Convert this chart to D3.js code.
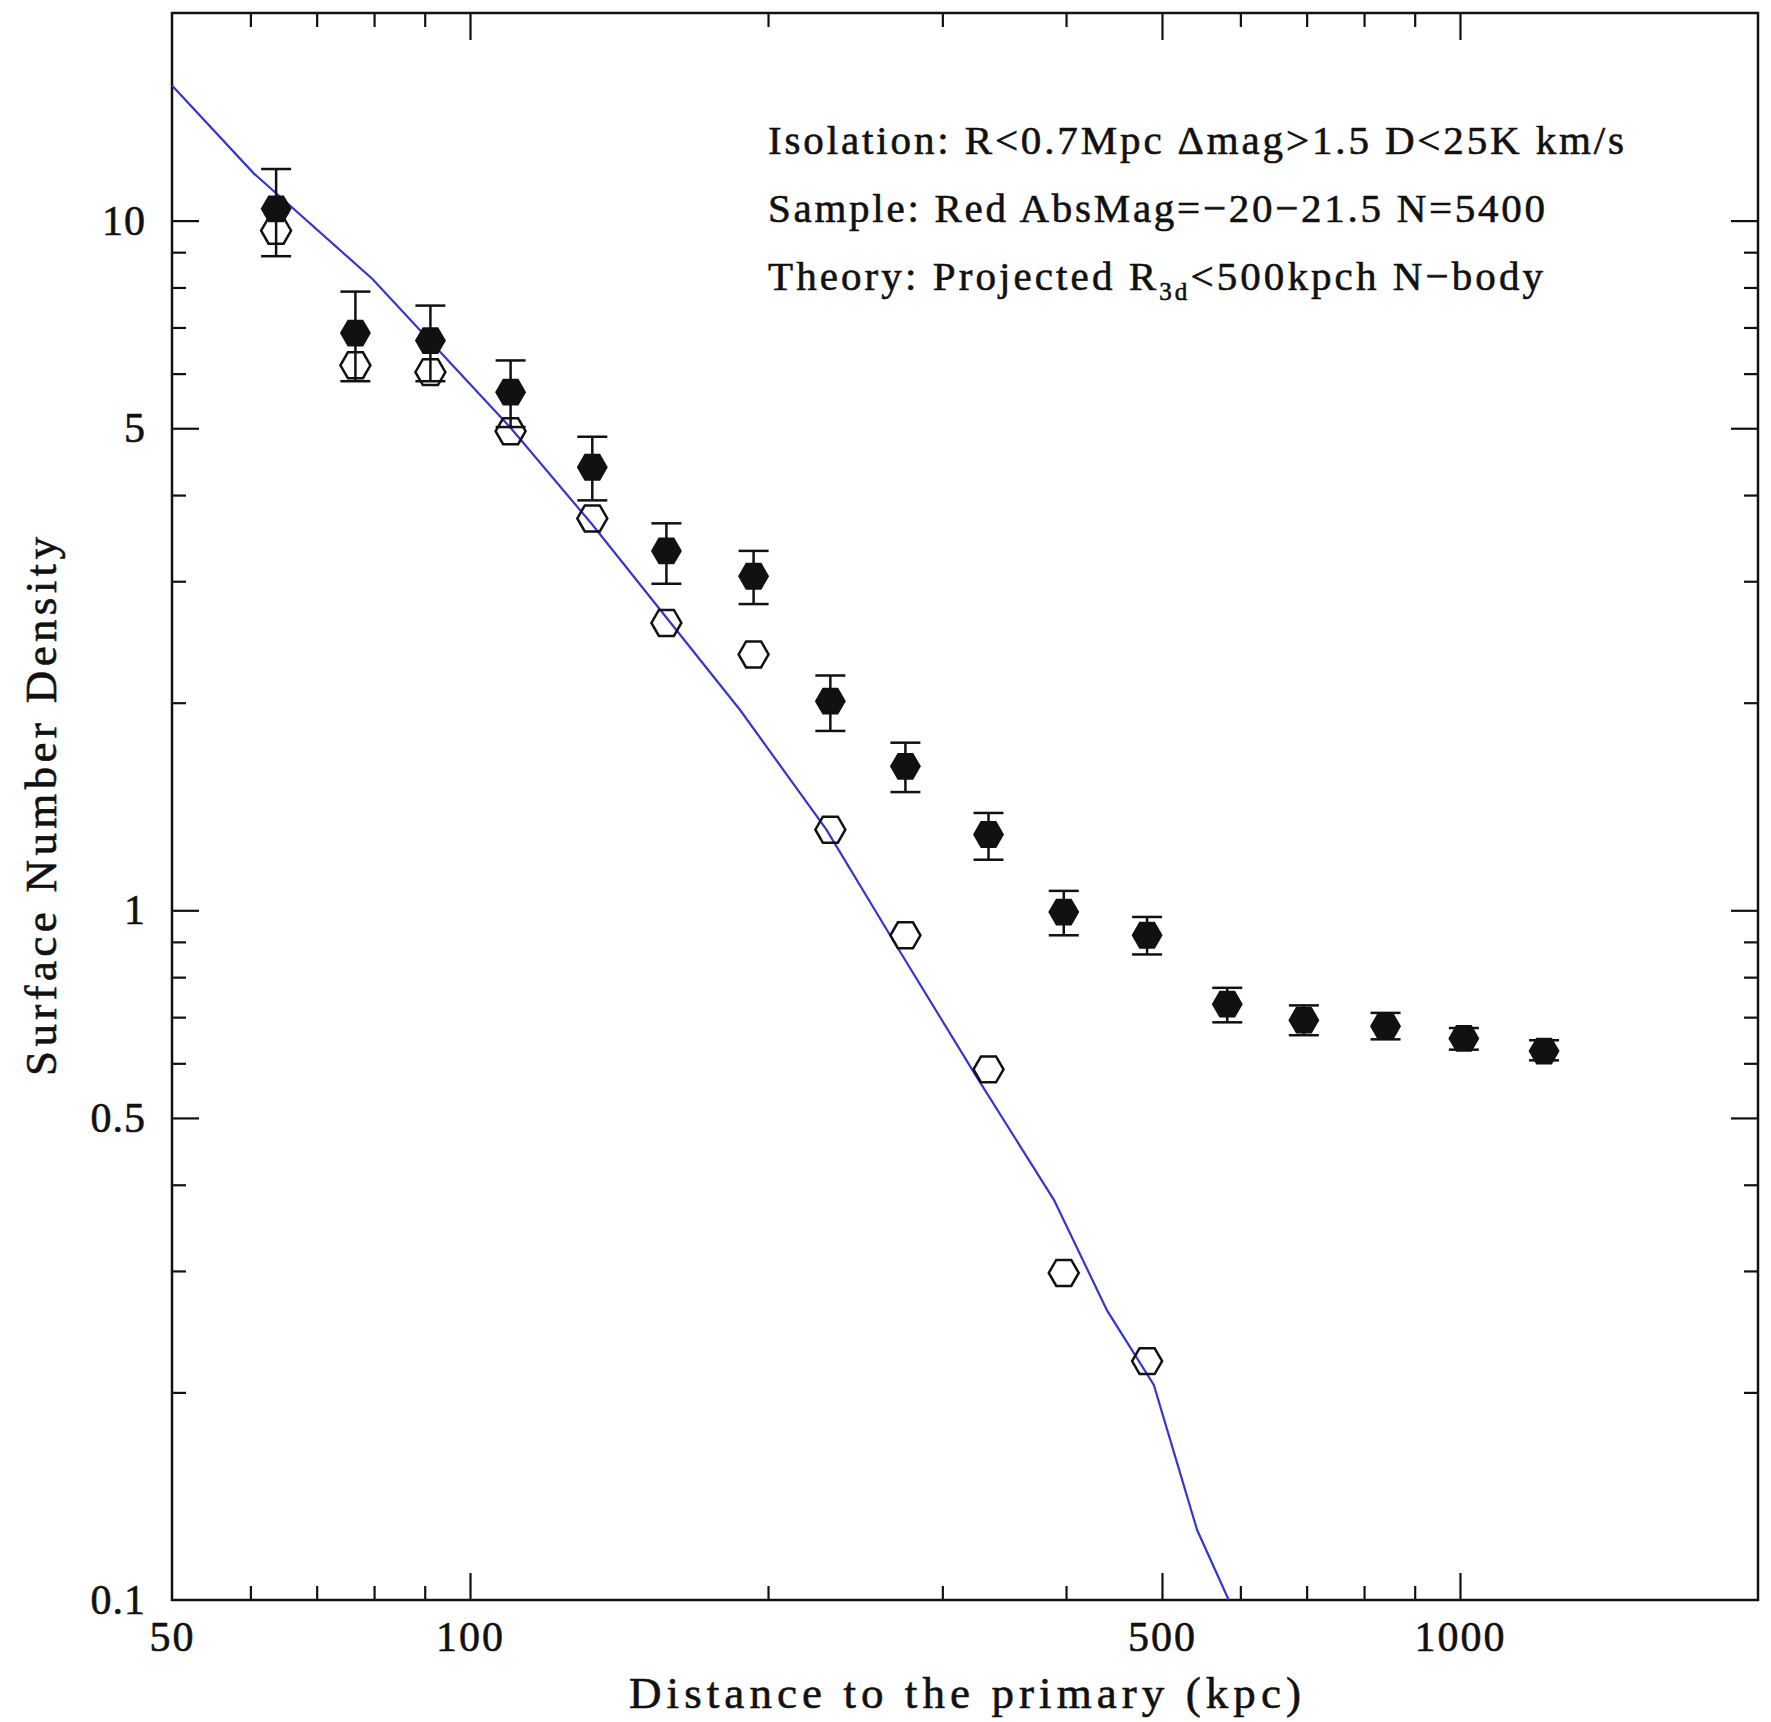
<!DOCTYPE html>
<html>
<head>
<meta charset="utf-8">
<script src="https://cdn.jsdelivr.net/npm/d3@7"></script>
<style>
  html, body { margin: 0; padding: 0; background: #fff; }
  svg { display: block; }
  text { font-family: "Liberation Serif", "DejaVu Serif", serif; fill: #111; stroke: #111; stroke-width: 0.6px; }
</style>
</head>
<body>
<svg id="chart" width="1771" height="1722"></svg>
<script>
"use strict";

// radial bins (kpc) and measured surface density of satellites
let distance    = [63.7, 76.6, 91.2, 109.9, 132.9, 157.9, 193.4, 231.2, 275.3, 334.0, 397.9, 483.0, 582.0, 695.5, 841.0, 1009.0, 1216.0];
let densityAll  = [10.4, 6.87, 6.70, 5.64, 4.39, 3.32, 3.05, 2.01, 1.617, 1.288, 0.994, 0.920, 0.731, 0.693, 0.679, 0.652, 0.625];
let errLow      = [8.88, 5.85, 5.85, 5.02, 3.93, 2.975, 2.78, 1.82, 1.484, 1.184, 0.920, 0.863, 0.688, 0.659, 0.650, 0.628, 0.606];
let errHigh     = [11.88, 7.89, 7.53, 6.27, 4.86, 3.64, 3.32, 2.19, 1.75, 1.384, 1.067, 0.978, 0.772, 0.728, 0.710, 0.675, 0.648];
// background-subtracted points (open hexagons), first 12 bins
let densityOpen = [9.67, 6.17, 6.03, 4.95, 3.70, 2.61, 2.35, 1.309, 0.920, 0.588, 0.298, 0.222];

// N-body projected profile
let theoryR       = [50, 60.5, 79.7, 110, 133, 187.5, 229, 272, 325, 389, 440, 490.6, 542.6, 584];
let theoryDensity = [15.7, 11.7, 8.23, 5.0, 3.62, 1.95, 1.31, 0.870, 0.573, 0.380, 0.263, 0.205, 0.1263, 0.1];

let xTickLabels = [50, 100, 500, 1000];
let xMajor = [100, 500, 1000];
let xMinor = [60, 70, 80, 90, 200, 300, 400, 600, 700, 800, 900];
let yTickLabels = [0.1, 0.5, 1, 5, 10];
let yMajor = [0.5, 1, 5, 10];
let yMinor = [0.2, 0.3, 0.4, 0.6, 0.7, 0.8, 0.9, 2, 3, 4, 6, 7, 8, 9];

let notes = [
  [{t: "Isolation: R<0.7Mpc \u0394mag>1.5 D<25K km/s"}],
  [{t: "Sample: Red AbsMag=\u221220\u221221.5 N=5400"}],
  [{t: "Theory: Projected R"}, {t: "3d", sub: true}, {t: "<500kpch N\u2212body"}]
];

let svg = d3.select("#chart");
let margin = {top: 13, right: 13, bottom: 122, left: 172};
let W = +svg.attr("width"), H = +svg.attr("height");

let x = d3.scaleLog().domain([50, 2000]).range([margin.left, W - margin.right]);
let y = d3.scaleLog().domain([0.1, 20]).range([H - margin.bottom, margin.top]);

let majorLen = 27, minorLen = 14;
let ink = "#111";

function tickAxis(axisFn, scale, values, len, transform) {
  let g = svg.append("g")
    .attr("transform", transform)
    .call(axisFn(scale).tickValues(values).tickSize(-len).tickFormat(""));
  g.select(".domain").remove();
  g.selectAll(".tick line").attr("stroke", ink).attr("stroke-width", 2.2);
  return g;
}

let atBottom = `translate(0,${y.range()[0]})`, atTop = `translate(0,${y.range()[1]})`;
let atLeft = `translate(${x.range()[0]},0)`, atRight = `translate(${x.range()[1]},0)`;

tickAxis(d3.axisBottom, x, xMajor, majorLen, atBottom);
tickAxis(d3.axisBottom, x, xMinor, minorLen, atBottom);
tickAxis(d3.axisTop, x, xMajor, majorLen, atTop);
tickAxis(d3.axisTop, x, xMinor, minorLen, atTop);
tickAxis(d3.axisLeft, y, yMajor, majorLen, atLeft);
tickAxis(d3.axisLeft, y, yMinor, minorLen, atLeft);
tickAxis(d3.axisRight, y, yMajor, majorLen, atRight);
tickAxis(d3.axisRight, y, yMinor, minorLen, atRight);

// tick labels
let xl = svg.append("g").attr("transform", atBottom)
  .call(d3.axisBottom(x).tickValues(xTickLabels).tickSize(0).tickPadding(21).tickFormat(d => String(d)));
xl.select(".domain").remove();
xl.attr("font-family", null).attr("font-size", null);
xl.selectAll("text").attr("font-size", 42).attr("letter-spacing", 2).attr("fill", ink);

let yl = svg.append("g").attr("transform", atLeft)
  .call(d3.axisLeft(y).tickValues(yTickLabels).tickSize(0).tickPadding(26).tickFormat(d => String(d)));
yl.select(".domain").remove();
yl.attr("font-family", null).attr("font-size", null);
yl.selectAll("text").attr("font-size", 42).attr("letter-spacing", 1).attr("fill", ink);

// frame
svg.append("rect")
  .attr("x", x.range()[0]).attr("y", y.range()[1])
  .attr("width", x.range()[1] - x.range()[0])
  .attr("height", y.range()[0] - y.range()[1])
  .attr("fill", "none").attr("stroke", ink).attr("stroke-width", 2.5);

// theory line
let line = d3.line().x(d => x(d[0])).y(d => y(d[1]));
svg.append("path")
  .datum(d3.zip(theoryR, theoryDensity))
  .attr("d", line)
  .attr("fill", "none")
  .attr("stroke", "#3636cc")
  .attr("stroke-width", 2.2);

// error bars
let capW = 15;
let eb = svg.append("g").attr("stroke", ink).attr("stroke-width", 2.5);
distance.forEach((d, i) => {
  let cx = x(d);
  eb.append("line").attr("x1", cx).attr("x2", cx).attr("y1", y(errLow[i])).attr("y2", y(errHigh[i]));
  eb.append("line").attr("x1", cx - capW).attr("x2", cx + capW).attr("y1", y(errLow[i])).attr("y2", y(errLow[i]));
  eb.append("line").attr("x1", cx - capW).attr("x2", cx + capW).attr("y1", y(errHigh[i])).attr("y2", y(errHigh[i]));
});

function hexPath(cx, cy, r) {
  let p = d3.path();
  for (let i = 0; i < 6; i++) {
    let a = Math.PI / 3 * i;
    let px = cx + r * Math.cos(a), py = cy + r * Math.sin(a);
    if (i) p.lineTo(px, py); else p.moveTo(px, py);
  }
  p.closePath();
  return p.toString();
}

svg.append("g").selectAll("path")
  .data(densityOpen)
  .join("path")
  .attr("d", (d, i) => hexPath(x(distance[i]), y(d), 15))
  .attr("fill", "none").attr("stroke", ink).attr("stroke-width", 2.5);

svg.append("g").selectAll("path")
  .data(densityAll)
  .join("path")
  .attr("d", (d, i) => hexPath(x(distance[i]), y(d), 15.5))
  .attr("fill", ink);

// annotation
let noteWidths = [856, 777, 775];
notes.forEach((segs, i) => {
  let t = svg.append("text")
    .attr("x", 768).attr("y", 154 + i * 68)
    .attr("font-size", 41);
  segs.forEach((s, j) => {
    let sp = t.append("tspan").text(s.t);
    if (s.sub) sp.attr("font-size", 25).attr("dy", 10);
    else if (j > 0) sp.attr("dy", -10);
  });
  t.attr("textLength", noteWidths[i]).attr("lengthAdjust", "spacing");
});

// axis titles
svg.append("text")
  .attr("x", (x.range()[0] + x.range()[1]) / 2)
  .attr("y", 1708)
  .attr("text-anchor", "middle")
  .attr("font-size", 45)
  .attr("textLength", 672).attr("lengthAdjust", "spacing")
  .text("Distance to the primary (kpc)");

svg.append("text")
  .attr("transform", `translate(56,${(y.range()[0] + y.range()[1]) / 2}) rotate(-90)`)
  .attr("text-anchor", "middle")
  .attr("font-size", 45)
  .attr("textLength", 539).attr("lengthAdjust", "spacing")
  .text("Surface Number Density");
</script>
</body>
</html>
